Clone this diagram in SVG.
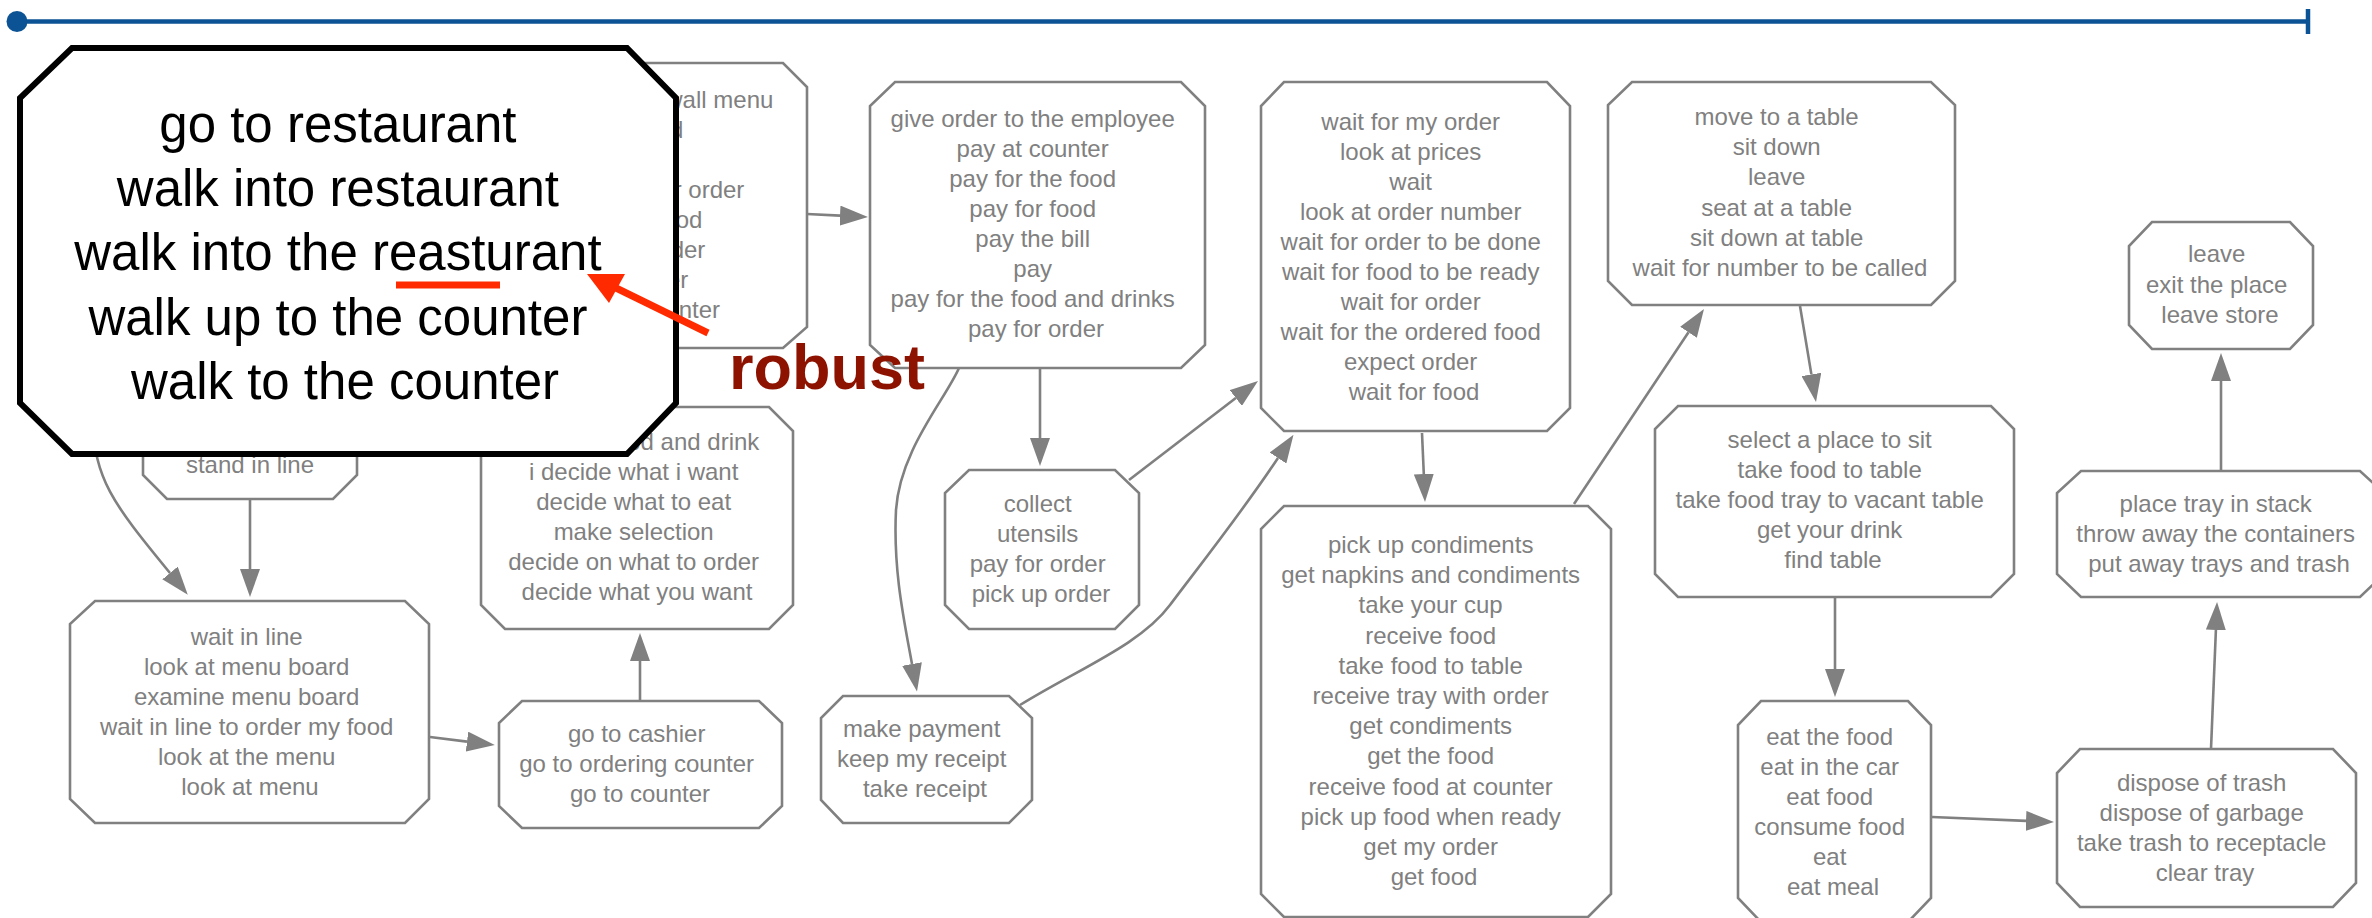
<svg xmlns="http://www.w3.org/2000/svg" width="2372" height="918" viewBox="0 0 2372 918">
  <style>
    .n polygon { fill: #ffffff; stroke: #808080; stroke-width: 2.6; stroke-linejoin: miter; }
    .n text { font-family: "Liberation Sans", Arial, Helvetica, sans-serif; font-size: 24px; fill: #808080; text-anchor: middle; }
    .n text.frag { text-anchor: end; }
    .e { fill: none; stroke: #808080; stroke-width: 2.6; marker-end: url(#ah); }
    .big text { font-family: "Liberation Sans", Arial, Helvetica, sans-serif; font-size: 51px; fill: #000000; text-anchor: middle; }
  </style>
  <defs>
    <marker id="ah" markerUnits="userSpaceOnUse" viewBox="0 0 28 20" markerWidth="28" markerHeight="20" refX="0" refY="10" orient="auto">
      <path d="M0,0 L28,10 L0,20 Z" fill="#808080"/>
    </marker>
  </defs>
  <rect width="2372" height="918" fill="#ffffff"/>

  <!-- timeline bar -->
  <g id="timeline" stroke="#0b5394" fill="#0b5394">
    <line x1="17" y1="21.5" x2="2308" y2="21.5" stroke-width="4.5"/>
    <circle cx="17" cy="21.5" r="10.5" stroke="none"/>
    <line x1="2308" y1="9" x2="2308" y2="34" stroke-width="4.5"/>
  </g>

  <!-- connectors -->
  <g id="connectors">
    <path class="e" d="M250,499 L250,569"/>
    <path class="e" d="M92,420 C96,480 110,500 170,573"/>
    <path class="e" d="M430,737 L467,741.6"/>
    <path class="e" d="M640,701 L640,661"/>
    <path class="e" d="M807,214 L840,215.6"/>
    <path class="e" d="M1040,368 L1040,438"/>
    <path class="e" d="M959,368 C945,400 900,450 896,510 C893,570 904,620 912,664"/>
    <path class="e" d="M1129,480 L1235.8,398"/>
    <path class="e" d="M1020,705 C1080,668 1140,645 1170,605 C1200,565 1240,515 1278,458"/>
    <path class="e" d="M1422,433 L1423.8,474"/>
    <path class="e" d="M1574,504 L1688.5,332.3"/>
    <path class="e" d="M1800,306 L1811.4,374.4"/>
    <path class="e" d="M1835,597 L1835,669"/>
    <path class="e" d="M1932,817 L2026,820.9"/>
    <path class="e" d="M2211,749 L2215.9,630"/>
    <path class="e" d="M2221,471 L2221,381"/>
  </g>

  <!-- nodes -->
  <g id="node-stand" class="n">
    <polygon points="167,360 333,360 357,384 357,475 333,499 167,499 143,475 143,384"/>
    <text><tspan x="250" y="473">stand in line</tspan></text>
  </g>

  <g id="node-wallmenu" class="n">
    <polygon points="544,63 783,63 807,87 807,327 783,348 544,348 520,327 520,87"/>
    <text class="frag">
      <tspan x="780" y="108">wall menu</tspan>
      <tspan x="690" y="138">d</tspan>
      <tspan x="751" y="198">r order</tspan>
      <tspan x="709" y="228">od</tspan>
      <tspan x="712" y="258">der</tspan>
      <tspan x="695" y="288">er</tspan>
      <tspan x="720" y="318">nter</tspan>
    </text>
  </g>

  <g id="node-waitline" class="n">
    <polygon points="95,601 405,601 429,624 429,799 405,823 95,823 70,799 70,624"/>
    <text>
      <tspan x="250" y="645">wait in line</tspan>
      <tspan x="250" y="675">look at menu board</tspan>
      <tspan x="250" y="705">examine menu board</tspan>
      <tspan x="250" y="735">wait in line to order my food</tspan>
      <tspan x="250" y="765">look at the menu</tspan>
      <tspan x="250" y="795">look at menu</tspan>
    </text>
  </g>

  <g id="node-cashier" class="n">
    <polygon points="522,701 759,701 782,723 782,806 759,828 522,828 499,806 499,723"/>
    <text>
      <tspan x="640" y="742">go to cashier</tspan>
      <tspan x="640" y="772">go to ordering counter</tspan>
      <tspan x="640" y="802">go to counter</tspan>
    </text>
  </g>

  <g id="node-decide" class="n">
    <polygon points="505,407 769,407 793,431 793,605 769,629 505,629 481,605 481,431"/>
    <text>
      <tspan x="766" y="450" style="text-anchor:end">od and drink</tspan>
      <tspan x="637" y="480">i decide what i want</tspan>
      <tspan x="637" y="510">decide what to eat</tspan>
      <tspan x="637" y="540">make selection</tspan>
      <tspan x="637" y="570">decide on what to order</tspan>
      <tspan x="637" y="600">decide what you want</tspan>
    </text>
  </g>

  <g id="node-pay" class="n">
    <polygon points="895,82 1181,82 1205,106 1205,345 1181,368 895,368 870,345 870,106"/>
    <text>
      <tspan x="1036" y="127">give order to the employee</tspan>
      <tspan x="1036" y="157">pay at counter</tspan>
      <tspan x="1036" y="187">pay for the food</tspan>
      <tspan x="1036" y="217">pay for food</tspan>
      <tspan x="1036" y="247">pay the bill</tspan>
      <tspan x="1036" y="277">pay</tspan>
      <tspan x="1036" y="307">pay for the food and drinks</tspan>
      <tspan x="1036" y="337">pay for order</tspan>
    </text>
  </g>

  <g id="node-collect" class="n">
    <polygon points="969,470 1115,470 1139,493 1139,605 1115,629 969,629 945,605 945,493"/>
    <text>
      <tspan x="1041" y="512">collect</tspan>
      <tspan x="1041" y="542">utensils</tspan>
      <tspan x="1041" y="572">pay for order</tspan>
      <tspan x="1041" y="602">pick up order</tspan>
    </text>
  </g>

  <g id="node-payment" class="n">
    <polygon points="843,696 1009,696 1032,718 1032,800 1009,823 843,823 821,800 821,718"/>
    <text>
      <tspan x="925" y="737">make payment</tspan>
      <tspan x="925" y="767">keep my receipt</tspan>
      <tspan x="925" y="797">take receipt</tspan>
    </text>
  </g>

  <g id="node-waitorder" class="n">
    <polygon points="1284,82 1547,82 1570,106 1570,408 1547,431 1284,431 1261,408 1261,106"/>
    <text>
      <tspan x="1414" y="130">wait for my order</tspan>
      <tspan x="1414" y="160">look at prices</tspan>
      <tspan x="1414" y="190">wait</tspan>
      <tspan x="1414" y="220">look at order number</tspan>
      <tspan x="1414" y="250">wait for order to be done</tspan>
      <tspan x="1414" y="280">wait for food to be ready</tspan>
      <tspan x="1414" y="310">wait for order</tspan>
      <tspan x="1414" y="340">wait for the ordered food</tspan>
      <tspan x="1414" y="370">expect order</tspan>
      <tspan x="1414" y="400">wait for food</tspan>
    </text>
  </g>

  <g id="node-pickup" class="n">
    <polygon points="1284,506 1588,506 1611,529 1611,894 1588,917 1284,917 1261,894 1261,529"/>
    <text>
      <tspan x="1434" y="553">pick up condiments</tspan>
      <tspan x="1434" y="583.2">get napkins and condiments</tspan>
      <tspan x="1434" y="613.4">take your cup</tspan>
      <tspan x="1434" y="643.6">receive food</tspan>
      <tspan x="1434" y="673.8">take food to table</tspan>
      <tspan x="1434" y="704">receive tray with order</tspan>
      <tspan x="1434" y="734.2">get condiments</tspan>
      <tspan x="1434" y="764.4">get the food</tspan>
      <tspan x="1434" y="794.6">receive food at counter</tspan>
      <tspan x="1434" y="824.8">pick up food when ready</tspan>
      <tspan x="1434" y="855">get my order</tspan>
      <tspan x="1434" y="885.2">get food</tspan>
    </text>
  </g>

  <g id="node-table" class="n">
    <polygon points="1632,82 1931,82 1955,105 1955,281 1931,305 1632,305 1608,281 1608,105"/>
    <text>
      <tspan x="1780" y="125">move to a table</tspan>
      <tspan x="1780" y="155.2">sit down</tspan>
      <tspan x="1780" y="185.4">leave</tspan>
      <tspan x="1780" y="215.6">seat at a table</tspan>
      <tspan x="1780" y="245.8">sit down at table</tspan>
      <tspan x="1780" y="276">wait for number to be called</tspan>
    </text>
  </g>

  <g id="node-sit" class="n">
    <polygon points="1678,406 1991,406 2014,429 2014,574 1991,597 1678,597 1655,574 1655,429"/>
    <text>
      <tspan x="1833" y="448">select a place to sit</tspan>
      <tspan x="1833" y="478">take food to table</tspan>
      <tspan x="1833" y="508">take food tray to vacant table</tspan>
      <tspan x="1833" y="538">get your drink</tspan>
      <tspan x="1833" y="568">find table</tspan>
    </text>
  </g>

  <g id="node-eat" class="n">
    <polygon points="1761,701 1908,701 1931,725 1931,898 1908,922 1761,922 1738,898 1738,725"/>
    <text>
      <tspan x="1833" y="745">eat the food</tspan>
      <tspan x="1833" y="775">eat in the car</tspan>
      <tspan x="1833" y="805">eat food</tspan>
      <tspan x="1833" y="835">consume food</tspan>
      <tspan x="1833" y="865">eat</tspan>
      <tspan x="1833" y="895">eat meal</tspan>
    </text>
  </g>

  <g id="node-trash" class="n">
    <polygon points="2080,749 2333,749 2356,773 2356,883 2333,907 2080,907 2057,883 2057,773"/>
    <text>
      <tspan x="2205" y="791">dispose of trash</tspan>
      <tspan x="2205" y="821">dispose of garbage</tspan>
      <tspan x="2205" y="851">take trash to receptacle</tspan>
      <tspan x="2205" y="881">clear tray</tspan>
    </text>
  </g>

  <g id="node-tray" class="n">
    <polygon points="2081,471 2360,471 2384,493 2384,574 2360,597 2081,597 2057,574 2057,493"/>
    <text>
      <tspan x="2219" y="512">place tray in stack</tspan>
      <tspan x="2219" y="542">throw away the containers</tspan>
      <tspan x="2219" y="572">put away trays and trash</tspan>
    </text>
  </g>

  <g id="node-leave" class="n">
    <polygon points="2152,222 2290,222 2313,246 2313,325 2290,349 2152,349 2129,325 2129,246"/>
    <text>
      <tspan x="2220" y="262">leave</tspan>
      <tspan x="2220" y="292.5">exit the place</tspan>
      <tspan x="2220" y="323">leave store</tspan>
    </text>
  </g>

  <!-- enlarged view of the entry node -->
  <g id="node-enter" class="big">
    <polygon points="72,48 627,48 676,98 676,403 627,454 72,454 20,403 20,98" fill="#ffffff" stroke="#000000" stroke-width="6" stroke-linejoin="miter"/>
    <text>
      <tspan x="345" y="142">go to restaurant</tspan>
      <tspan x="345" y="206">walk into restaurant</tspan>
      <tspan x="345" y="270">walk into the reasturant</tspan>
      <tspan x="345" y="335">walk up to the counter</tspan>
      <tspan x="345" y="399">walk to the counter</tspan>
    </text>
  </g>

  <!-- annotation -->
  <g id="annotation">
    <rect x="396" y="281.5" width="104" height="7" fill="#ff2a00"/>
    <line x1="708" y1="333" x2="614" y2="287" stroke="#ff2a00" stroke-width="7"/>
    <polygon points="587,274 625,274 609,303" fill="#ff2a00"/>
    <text x="729" y="389" font-family="Liberation Sans, Arial, Helvetica, sans-serif" font-size="63" font-weight="bold" fill="#8e1200">robust</text>
  </g>
</svg>
